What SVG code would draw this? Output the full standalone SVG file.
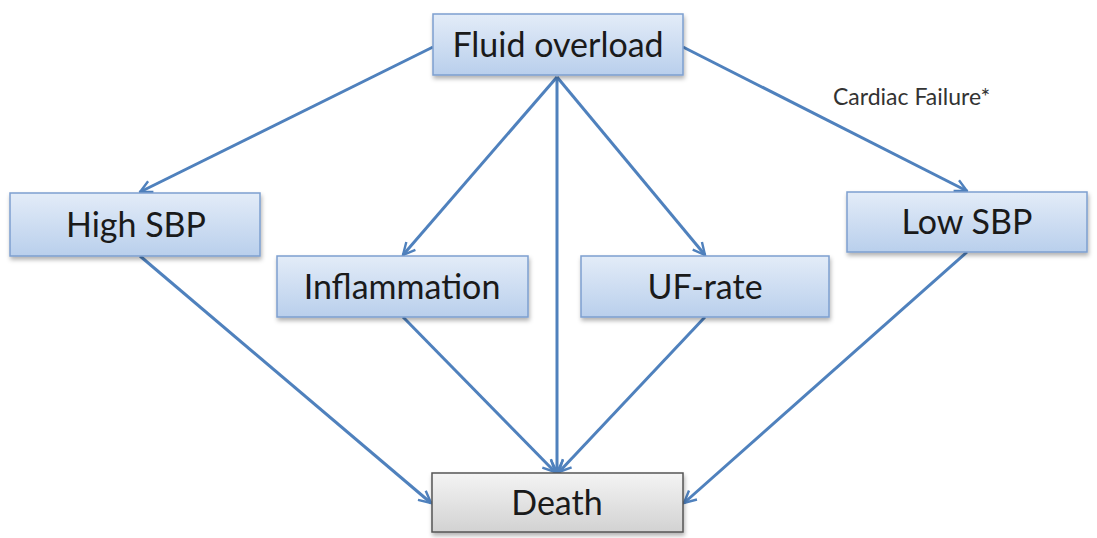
<svg xmlns="http://www.w3.org/2000/svg" width="1097" height="538" viewBox="0 0 1097 538">
<defs>
<linearGradient id="gb" x1="0" y1="0" x2="0" y2="1">
<stop offset="0" stop-color="#e3ecf8"/>
<stop offset="1" stop-color="#b9cfec"/>
</linearGradient>
<linearGradient id="gg" x1="0" y1="0" x2="0" y2="1">
<stop offset="0" stop-color="#f4f4f4"/>
<stop offset="1" stop-color="#d2d2d2"/>
</linearGradient>
<filter id="sh" x="-10%" y="-10%" width="120%" height="140%">
<feDropShadow dx="1" dy="3" stdDeviation="2" flood-color="#000" flood-opacity="0.3"/>
</filter>
<marker id="ah" viewBox="0 0 10 10" refX="9" refY="5" markerWidth="5" markerHeight="5" orient="auto" markerUnits="strokeWidth">
<path d="M1,1 L9,5 L1,9" fill="none" stroke="#4f81bd" stroke-width="1.6"/>
</marker>
<style>
.box{fill:url(#gb);stroke:#7d9fcf;stroke-width:1.5;filter:url(#sh)}
.dbox{fill:url(#gg);stroke:#555;stroke-width:1.5;filter:url(#sh)}
.lbl{font-family:Lato,"Open Sans","Liberation Sans",sans-serif;font-size:34px;fill:#1a1a1a;text-anchor:middle}
.sm{font-family:Lato,"Open Sans","Liberation Sans",sans-serif;font-size:23px;fill:#333}
.c{stroke:#4f81bd;stroke-width:3;fill:none;marker-end:url(#ah)}
</style>
</defs>
<g id="connectors">
<line class="c" x1="433" y1="47" x2="140" y2="192"/>
<line class="c" x1="683" y1="47" x2="967" y2="191"/>
<line class="c" x1="557" y1="77" x2="403" y2="255"/>
<line class="c" x1="557" y1="77" x2="557" y2="472"/>
<line class="c" x1="557" y1="77" x2="705" y2="255"/>
<line class="c" x1="140" y1="256" x2="431" y2="503"/>
<line class="c" x1="403" y1="317" x2="555" y2="472"/>
<line class="c" x1="705" y1="317" x2="559" y2="472"/>
<line class="c" x1="967" y1="252" x2="684" y2="503"/>
<text class="sm" x="833" y="105">Cardiac Failure*</text>
</g>
<g id="fluid-overload">
<rect class="box" x="433" y="14" width="250" height="61"/>
<text class="lbl" x="558" y="57">Fluid overload</text>
</g>
<g id="high-sbp">
<rect class="box" x="10" y="193" width="250" height="63"/>
<text class="lbl" x="136" y="237">High SBP</text>
</g>
<g id="inflammation">
<rect class="box" x="277" y="256" width="251" height="61"/>
<text class="lbl" x="402" y="299">Inflammation</text>
</g>
<g id="uf-rate">
<rect class="box" x="581" y="256" width="248" height="61"/>
<text class="lbl" x="705" y="299">UF-rate</text>
</g>
<g id="low-sbp">
<rect class="box" x="847" y="192" width="240" height="60"/>
<text class="lbl" x="967" y="234">Low SBP</text>
</g>
<g id="death">
<rect class="dbox" x="432" y="473" width="251" height="59"/>
<text class="lbl" x="557" y="515">Death</text>
</g>
</svg>
